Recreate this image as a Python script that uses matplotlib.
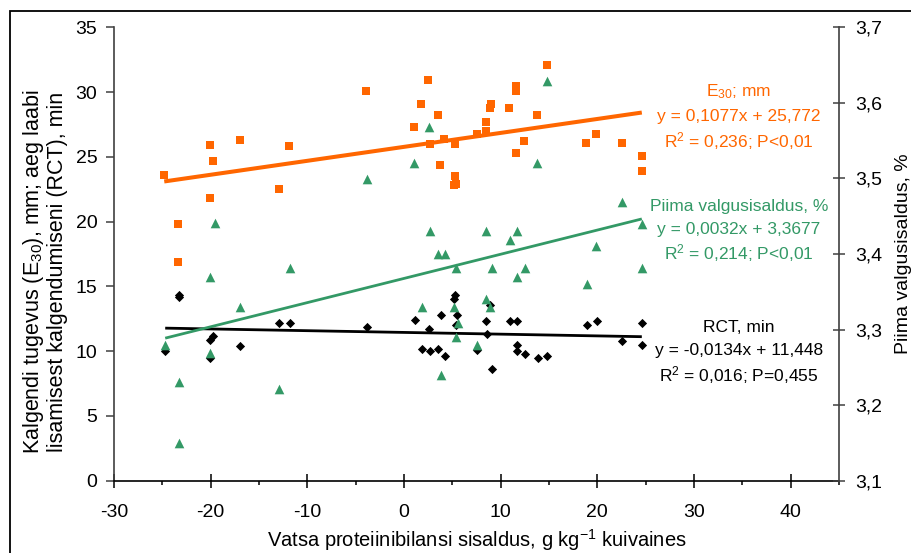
import matplotlib
matplotlib.use("Agg")
from matplotlib import pyplot as plt
from matplotlib.patches import Rectangle
from matplotlib.ticker import MultipleLocator, FuncFormatter
import numpy as np

plt.rcParams['font.family'] = ['Liberation Sans', 'DejaVu Sans']
plt.rcParams['mathtext.fontset'] = 'custom'
plt.rcParams['mathtext.rm'] = 'Liberation Sans'
plt.rcParams['mathtext.it'] = 'Liberation Sans'
plt.rcParams['mathtext.default'] = 'regular'

ORANGE = '#FF6600'
GREEN = '#339966'
BLACK = '#000000'
GREY = '#404040'

# E30, mm (vasak telg)
e30_x = [-24.8, -23.4, -23.4, -20.1, -19.8, -20.1, -17.0, -11.9, -12.9, -3.9,
         2.5, 1.8, 3.5, 1.0, 2.7, 4.1, 5.3, 3.7, 5.3, 5.4, 5.2,
         9.0, 8.9, 8.5, 8.5, 7.6, 14.8, 11.6, 11.6, 10.9, 13.8, 12.4, 11.6,
         18.8, 19.9, 22.5, 24.6, 24.6]
e30_y = [23.6, 19.8, 16.9, 25.9, 24.7, 21.8, 26.3, 25.8, 22.5, 30.1,
         30.9, 29.1, 28.2, 27.3, 26.0, 26.4, 26.0, 24.4, 23.5, 22.9, 22.8,
         29.1, 28.8, 27.7, 27.0, 26.8, 32.1, 30.5, 30.1, 28.8, 28.2, 26.2, 25.3,
         26.1, 26.8, 26.1, 25.1, 23.9]

# RCT, min (vasak telg)
rct_x = [-23.3, -23.3, -24.7, -20.1, -20.1, -19.8, -17.0, -12.9, -11.8, -3.8,
         1.1, 2.6, 1.9, 2.7, 3.5, 4.2, 3.8, 5.3, 5.2, 5.5, 5.4,
         8.5, 8.6, 8.9, 9.1, 7.6, 11.0, 11.7, 11.7, 11.7, 12.5, 13.9, 14.8,
         18.9, 20.0, 22.6, 24.6, 24.6]
rct_y = [14.3, 14.2, 10.0, 9.5, 10.9, 11.2, 10.4, 12.2, 12.2, 11.9,
         12.4, 11.7, 10.2, 10.0, 10.2, 9.6, 12.8, 14.3, 14.0, 12.8, 12.0,
         12.3, 11.3, 13.6, 8.6, 10.1, 12.3, 12.3, 10.5, 10.0, 9.8, 9.5, 9.6,
         12.0, 12.3, 10.8, 12.2, 10.5]

# Piima valgusisaldus, % (parem telg)
prot_x = [2.6, 1.0, -3.8, -19.6, 2.7, 8.5, 3.5, 4.2, -11.8, 5.4, 9.1,
          14.8, 13.8, 22.6, 24.6, 11.7, 11.0, 19.9, -20.1, -17.0, 1.9, 5.2,
          8.5, 8.9, 5.6, -24.7, -20.1, 5.4, 7.6, -23.3, 3.8, -12.9, -23.3,
          12.5, 11.7, 24.6, 18.9]
prot_y = [3.568, 3.520, 3.499, 3.441, 3.430, 3.430, 3.400, 3.400, 3.382, 3.382, 3.382,
          3.629, 3.520, 3.469, 3.440, 3.430, 3.419, 3.410, 3.370, 3.330, 3.330, 3.330,
          3.340, 3.330, 3.309, 3.280, 3.269, 3.290, 3.280, 3.231, 3.240, 3.221, 3.150,
          3.381, 3.370, 3.381, 3.360]

# regressioonid: tous, vabaliige
e30_fit = (0.1077, 25.772)
rct_fit = (-0.0134, 11.448)
prot_fit = (0.0032, 3.3677)

e30_text = ['E$_{30}$; mm', 'y = 0,1077x + 25,772', 'R$^2$ = 0,236; P<0,01']
prot_text = ['Piima valgusisaldus, %', 'y = 0,0032x + 3,3677', 'R$^2$ = 0,214; P<0,01']
rct_text = ['RCT, min', 'y = -0,0134x + 11,448', 'R$^2$ = 0,016; P=0,455']


def fit_line(ax, xs, fit, color, lw):
	x = np.array([min(xs), max(xs)])
	ax.plot(x, fit[0] * x + fit[1], color=color, lw=lw, solid_capstyle='butt', zorder=3)


def put_text(ax, lines, ys, color):
	for s, y in zip(lines, ys):
		ax.text(0.862, y, s, transform=ax.transAxes, color=color, fontsize=12.5,
				ha='center', va='center', zorder=5)


fig = plt.figure(figsize=(9.11, 5.53), dpi=100)
ax = fig.add_axes([0.1251, 0.1307, 0.7959, 0.8199])
ax2 = ax.twinx()

ax.scatter(rct_x, rct_y, marker='D', s=22, color=BLACK, linewidths=0, zorder=2)
fit_line(ax, rct_x, rct_fit, BLACK, 2.0)
ax.scatter(e30_x, e30_y, marker='s', s=36, color=ORANGE, linewidths=0, zorder=2)
fit_line(ax, e30_x, e30_fit, ORANGE, 2.9)
ax2.scatter(prot_x, prot_y, marker='^', s=48, color=GREEN, linewidths=0, zorder=2)
fit_line(ax2, prot_x, prot_fit, GREEN, 2.0)

ax.set_xlim(-30, 45)
ax.set_ylim(0, 35)
ax2.set_ylim(3.1, 3.7)

ax.xaxis.set_major_locator(MultipleLocator(10))
ax.xaxis.set_minor_locator(MultipleLocator(5))
ax.yaxis.set_major_locator(MultipleLocator(5))
ax2.yaxis.set_major_locator(MultipleLocator(0.1))
ax.xaxis.set_major_formatter(FuncFormatter(lambda v, p: '%d' % round(v)))
ax.yaxis.set_major_formatter(FuncFormatter(lambda v, p: '%d' % round(v)))
ax2.yaxis.set_major_formatter(FuncFormatter(lambda v, p: ('%.1f' % v).replace('.', ',')))

for a in (ax, ax2):
	a.spines['top'].set_visible(False)
ax.spines['right'].set_visible(False)
ax2.spines['left'].set_visible(False)
ax2.spines['bottom'].set_visible(False)
ax.spines['left'].set_color(GREY)
ax2.spines['right'].set_color(GREY)
ax.spines['bottom'].set_color(BLACK)
for sp in (ax.spines['left'], ax.spines['bottom'], ax2.spines['right']):
	sp.set_linewidth(1.2)

ax.tick_params(axis='x', which='major', direction='inout', length=10, width=1.1, labelsize=14, pad=12)
ax.tick_params(axis='x', which='minor', direction='out', length=3, width=1.1)
ax.tick_params(axis='y', direction='out', length=6, width=1.1, color=GREY, labelsize=14, pad=6)
ax2.tick_params(axis='y', direction='inout', length=9, width=1.1, color=GREY, labelsize=14, pad=7)

ax.set_xlabel('Vatsa proteiinibilansi sisaldus, g kg$^{-1}$ kuivaines', fontsize=14.5, va='center')
ax.xaxis.set_label_coords(0.5, -0.13)
ax.set_ylabel('Kalgendi tugevus (E$_{30}$), mm; aeg laabi\nlisamisest kalgendumiseni (RCT), min',
			  fontsize=15.5, multialignment='center', va='center', linespacing=1.1)
ax.yaxis.set_label_coords(-0.096, 0.46)
ax2.set_ylabel('Piima valgusisaldus, %', fontsize=14)
ax2.yaxis.set_label_coords(1.077, 0.5)

put_text(ax, e30_text, [0.858, 0.803, 0.750], ORANGE)
put_text(ax, prot_text, [0.604, 0.555, 0.503], GREEN)
put_text(ax, rct_text, [0.337, 0.288, 0.233], BLACK)

# raam ümber joonise (parem ja alumine serv jäävad välja)
fig.patches.append(Rectangle((10 / 911, -0.2), 1.2, 1.2 - 10.5 / 553, transform=fig.transFigure,
							 fill=False, ec='black', lw=1.3, clip_on=False))

fig.savefig('out.png', dpi=100)
